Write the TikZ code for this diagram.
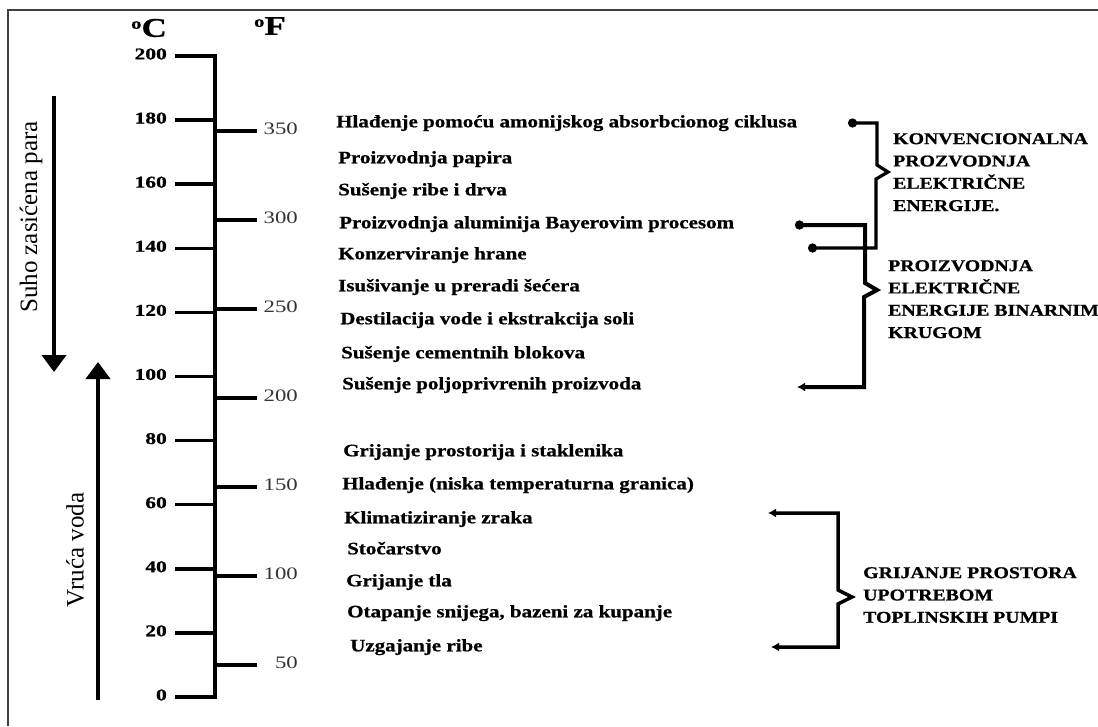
\documentclass[tikz,border=0pt]{standalone}
\usepackage{fontspec}
\setmainfont{Liberation Serif}
\newfontfamily\itemfont[FakeStretch=1.2,FakeBold=0.8]{Liberation Serif}
\newfontfamily\grpfont[FakeStretch=1.2,FakeBold=0.8]{Liberation Serif}
\newfontfamily\cfont[FakeStretch=1.3,FakeBold=0.8]{Liberation Serif}
\newfontfamily\ffont[FakeStretch=1.3]{Liberation Serif}
\usetikzlibrary{arrows.meta}
\begin{document}
\begin{tikzpicture}[x=1pt,y=-1pt,
  item/.style={anchor=west,inner sep=0pt,text height=0.66em,text depth=0pt,
    font=\itemfont\bfseries\fontsize{17.5}{18}\selectfont},
  grp/.style={anchor=north west,inner sep=0pt,align=left,
    font=\grpfont\bfseries\fontsize{16.5}{22.3}\selectfont},
  clabel/.style={anchor=east,inner sep=0pt,text height=0.68em,text depth=0pt,
    font=\cfont\bfseries\fontsize{16.5}{18}\selectfont},
  flabel/.style={anchor=east,inner sep=0pt,text height=0.68em,text depth=0pt,
    text=black!80,font=\ffont\fontsize{17.5}{18}\selectfont},
  hdr/.style={inner sep=0pt,font=\cfont\bfseries\fontsize{27}{27}\selectfont},
  side/.style={rotate=90,inner sep=0pt,font=\fontsize{25}{25}\selectfont},
  ctick/.style={line width=3.5pt},
  ftick/.style={line width=3.5pt},
  bigarrow/.style={line width=4.5pt,-{Triangle[width=24pt,length=17pt]}},
  brk/.style={line width=3.2pt,line join=miter},
]
\useasboundingbox (0,0) rectangle (1098,726);
% frame (top and left edges visible)
\draw[line width=1.5pt,black!75] (1098,10) -- (8,10) -- (8,726);

% headers
\node[hdr] (hC) at (149,28) {\raisebox{8pt}{\fontsize{16}{16}\selectfont o}C};
\node[hdr] (hF) at (270,26) {\raisebox{8pt}{\fontsize{16}{16}\selectfont o}F};

% main axis with end ticks
\draw[line width=4.5pt,line join=miter] (175,56.0) -- (215,56.0) -- (215,697) -- (175,697);
% Celsius ticks and labels
\foreach \v in {0,20,...,200} {
  \pgfmathsetmacro\yy{697-3.205*\v}
  \draw[ctick] (175,\yy) -- (215,\yy);
  \node[clabel] (c\v) at (167,\yy) {\v};
}
% Fahrenheit ticks and labels
\foreach \f in {50,100,...,350} {
  \pgfmathsetmacro\yy{697-3.205*(\f-32)*5/9}
  \draw[ftick] (215,\yy) -- (257,\yy);
  \node[flabel] (f\f) at (298,\yy) {\f};
}

% side arrows
\coordinate (sA) at (54,96);
\coordinate (sB) at (54,372);
\draw[bigarrow] (sA) -- (sB);
\node[side] (suho) at (31,217) {Suho zasićena para};
\coordinate (vA) at (98,700);
\coordinate (vB) at (98,362);
\draw[bigarrow] (vA) -- (vB);
\node[side] (vruca) at (75,550) {Vruća voda};

% application items
\node[item] (i1) at (336,124) {Hlađenje pomoću amonijskog absorbcionog ciklusa};
\node[item] (i2) at (338,160) {Proizvodnja papira};
\node[item] (i3) at (338,192) {Sušenje ribe i drva};
\node[item] (i4) at (339,225) {Proizvodnja aluminija Bayerovim procesom};
\node[item] (i5) at (338,256) {Konzerviranje hrane};
\node[item] (i6) at (338,288) {Isušivanje u preradi šećera};
\node[item] (i7) at (340,321) {Destilacija vode i ekstrakcija soli};
\node[item] (i8) at (341,355) {Sušenje cementnih blokova};
\node[item] (i9) at (342,386) {Sušenje poljoprivrenih proizvoda};
\node[item] (i10) at (343,453) {Grijanje prostorija i staklenika};
\node[item] (i11) at (342,486) {Hlađenje (niska temperaturna granica)};
\node[item] (i12) at (344,520) {Klimatiziranje zraka};
\node[item] (i13) at (347,551) {Stočarstvo};
\node[item] (i14) at (346,583) {Grijanje tla};
\node[item] (i15) at (347,614) {Otapanje snijega, bazeni za kupanje};
\node[item] (i16) at (350,648) {Uzgajanje ribe};

% group labels
\node[grp] (g1) at (893,133) {KONVENCIONALNA\\PROZVODNJA\\ELEKTRIČNE\\ENERGIJE.};
\node[grp] (g2) at (888,260) {PROIZVODNJA\\ELEKTRIČNE\\ENERGIJE BINARNIM\\KRUGOM};
\node[grp] (g3) at (863,567) {GRIJANJE PROSTORA\\UPOTREBOM\\TOPLINSKIH PUMPI};

% brackets
\coordinate (b1t) at (848,123);
\coordinate (b1b) at (808,248);
\draw[brk,{Circle[length=9pt]}-{Circle[length=9pt]}]
  (b1t) -- (877,123) -- (877,165) -- (888,172) -- (876,179) -- (876,248) -- (b1b);

\coordinate (b2t) at (795,225);
\coordinate (b2b) at (797,387);
\draw[brk,line width=4pt,{Circle[length=9pt]}-{Latex[length=8pt,width=9pt]}]
  (b2t) -- (865,225) -- (865,283) -- (877,290) -- (864,297) -- (864,387) -- (b2b);

\coordinate (b3t) at (768,513);
\coordinate (b3b) at (771,647);
\draw[brk,line width=3.5pt,{Latex[length=8pt,width=9pt]}-{Latex[length=8pt,width=9pt]}]
  (b3t) -- (838,513) -- (838,590) -- (852,597) -- (838,604) -- (838,647) -- (b3b);
\end{tikzpicture}
\end{document}
